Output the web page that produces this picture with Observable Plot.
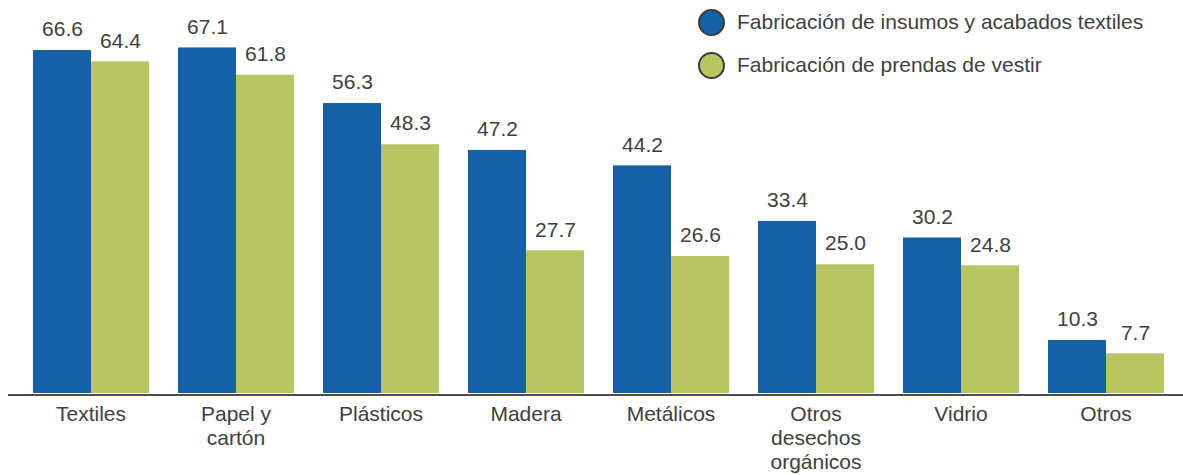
<!DOCTYPE html>
<html>
<head>
<meta charset="utf-8">
<script src="https://cdn.jsdelivr.net/npm/d3@7"></script>
<script src="https://cdn.jsdelivr.net/npm/@observablehq/plot@0.6"></script>
<style>
  body { margin: 0; background: #fff; font-family: "Liberation Sans", Arial, sans-serif; }
  #wrap { position: relative; width: 1183px; height: 475px; }
  #legend { position: absolute; left: 698px; top: 8px; font-size: 21px; color: #404040; }
  .item { display: flex; align-items: center; height: 28px; margin-bottom: 15px; }
  .sw { width: 27px; height: 27px; border-radius: 50%; border: 2px solid #3a3a3a; box-sizing: border-box; margin-right: 12px; }
</style>
</head>
<body>
<div id="wrap"><div id="legend"></div></div>
<script>
const categories = ["Textiles", "Papel y\ncartón", "Plásticos", "Madera", "Metálicos", "Otros\ndesechos\norgánicos", "Vidrio", "Otros"];
const series = ["Fabricación de insumos y acabados textiles", "Fabricación de prendas de vestir"];
const insumos = [66.6, 67.1, 56.3, 47.2, 44.2, 33.4, 30.2, 10.3];
const prendas = [64.4, 61.8, 48.3, 27.7, 26.6, 25.0, 24.8, 7.7];
const colors = ["#1660a6", "#b9c463"];

const data = [];
categories.forEach((c, i) => {
  data.push({cat: c, s: series[0], v: insumos[i]});
  data.push({cat: c, s: series[1], v: prendas[i]});
});

const chart = Plot.plot({
  width: 1183,
  height: 475,
  marginLeft: 17,
  marginRight: 4,
  marginTop: 32.5,
  marginBottom: 82,
  style: {fontFamily: "Liberation Sans, Arial, sans-serif", fontSize: "21px", color: "#404040", background: "#fff"},
  fx: {domain: categories, paddingInner: 0.19, paddingOuter: 0.1, label: null, axis: null},
  x: {domain: series, padding: 0, axis: null},
  y: {domain: [0, 70], axis: null},
  color: {domain: series, range: colors},
  marks: [
    Plot.barY(data, {fx: "cat", x: "s", y: "v", fill: "s", inset: 0}),
    Plot.text(data, {fx: "cat", x: "s", y: "v", text: d => d.v.toFixed(1), dy: -21, fontSize: 21, fill: "#404040"}),
    Plot.axisFx({anchor: "bottom", tickSize: 0, tickPadding: 10, lineAnchor: "top", lineHeight: 1.15, fontSize: 21, fill: "#404040", label: null})
  ]
});

const wrap = document.getElementById("wrap");
wrap.insertBefore(chart, wrap.firstChild);

const y0 = chart.scale("y").apply(0);
d3.select(chart).append("line")
  .attr("x1", 8).attr("x2", 1183)
  .attr("y1", y0 + 2).attr("y2", y0 + 2)
  .attr("stroke", "#4d4d4d").attr("stroke-width", 2);

const leg = d3.select("#legend");
series.forEach((s, i) => {
  const it = leg.append("div").attr("class", "item");
  it.append("div").attr("class", "sw").style("background", colors[i]);
  it.append("span").text(s);
});
</script>
</body>
</html>
